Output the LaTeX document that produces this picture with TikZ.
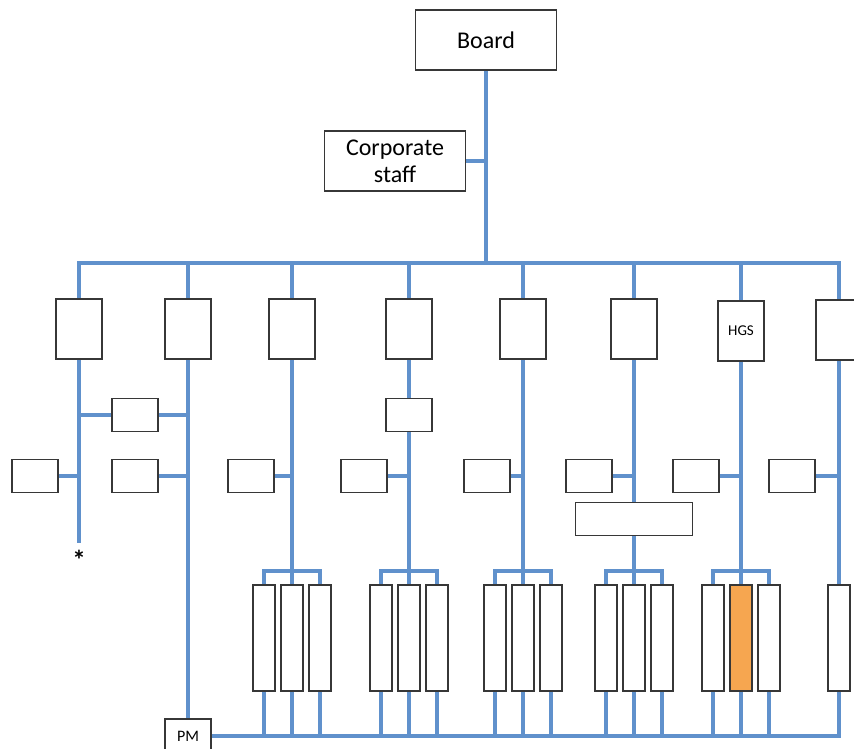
\documentclass[tikz,border=0pt]{standalone}
\usepackage{fontspec}
\setmainfont{Carlito}
\usepackage{xcolor}
\usepackage{tikz}
\usetikzlibrary{positioning,backgrounds}

\definecolor{linkblue}{RGB}{96,145,204}
\definecolor{boxgray}{RGB}{55,55,55}
\definecolor{hilite}{RGB}{246,166,80}

\begin{document}
\begin{tikzpicture}[
  x=1pt, y=-1pt,
  box/.style={draw=boxgray, line width=1.1pt, fill=white, inner sep=0pt},
  topBox/.style={box, align=center, minimum width=141pt, minimum height=60pt,
                 font=\fontsize{24}{27}\selectfont},
  unitBox/.style={box, minimum width=46pt, minimum height=60pt,
                  font=\fontsize{15}{17}\selectfont},
  sideBox/.style={box, minimum width=46pt, minimum height=33pt},
  wideBox/.style={box, minimum width=117pt, minimum height=33pt},
  tallBox/.style={box, minimum width=22pt, minimum height=106pt},
  link/.style={draw=linkblue, line width=3.2pt},
]
\clip (0,0) rectangle (854,749);

% board and staff
\node[topBox] (board) at (486,40)  {Board};
\node[topBox] (staff) at (395,161) {Corporate\\staff};

% divisions
\node[unitBox] (d1) at (79,329)  {};
\node[unitBox] (d2) at (188,329) {};
\node[unitBox] (d3) at (292,329) {};
\node[unitBox] (d4) at (409,329) {};
\node[unitBox] (d5) at (523,329) {};
\node[unitBox] (d6) at (634,329) {};
\node[unitBox] (d7) at (741,331) {HGS};
\node[unitBox] (d8) at (839,330) {};

\node[sideBox] (m1) at (135,415) {};
\node[sideBox] (m4) at (409,415) {};

\node[sideBox] (s1) at (35,476)  {};
\node[sideBox] (s2) at (135,476) {};
\node[sideBox] (s3) at (251,476) {};
\node[sideBox] (s4) at (364,476) {};
\node[sideBox] (s5) at (487,476) {};
\node[sideBox] (s6) at (589,476) {};
\node[sideBox] (s7) at (696,476) {};
\node[sideBox] (s8) at (792,476) {};

\node[wideBox] (w6) at (634,519) {};
\node[anchor=base, inner sep=0pt, font=\fontsize{27}{29}\bfseries] (star) at (79,569) {*};

% plants
\node[tallBox] (t3a) at (264,638) {}; \node[tallBox] (t3b) at (292,638) {}; \node[tallBox] (t3c) at (320,638) {};
\node[tallBox] (t4a) at (381,638) {}; \node[tallBox] (t4b) at (409,638) {}; \node[tallBox] (t4c) at (437,638) {};
\node[tallBox] (t5a) at (495,638) {}; \node[tallBox] (t5b) at (523,638) {}; \node[tallBox] (t5c) at (551,638) {};
\node[tallBox] (t6a) at (606,638) {}; \node[tallBox] (t6b) at (634,638) {}; \node[tallBox] (t6c) at (662,638) {};
\node[tallBox] (t7a) at (713,638) {}; \node[tallBox, fill=hilite] (t7b) at (741,638) {}; \node[tallBox] (t7c) at (769,638) {};
\node[tallBox] (t8)  at (839,638) {};

\node[unitBox, minimum height=34pt, font=\fontsize{16}{18}\selectfont] (pm) at (188,736) {PM};

\coordinate (bus)  at (486,263);
\coordinate (tail) at (79,543);
\coordinate (k3) at (292,571); \coordinate (k4) at (409,571);
\coordinate (k5) at (523,571); \coordinate (k6) at (634,571);
\coordinate (k7) at (741,571);

\begin{scope}[on background layer]
\draw[link] (board) -- (bus);
\draw[link] (staff) -- (staff -| board);
\draw[link] (d1.north) |- (bus) -| (d8.north);
\draw[link] (d2) -- (d2 |- bus); \draw[link] (d3) -- (d3 |- bus);
\draw[link] (d4) -- (d4 |- bus); \draw[link] (d5) -- (d5 |- bus);
\draw[link] (d6) -- (d6 |- bus); \draw[link] (d7) -- (d7 |- bus);

\draw[link] (d1) -- (tail);
\draw[link] (s1) -- (s1 -| d1); \draw[link] (m1) -- (m1 -| d1);
\draw[link] (m1) -- (m1 -| d2); \draw[link] (s2) -- (s2 -| d2);
\draw[link] (d2) -- (pm);

\draw[link] (d3) -- (t3b); \draw[link] (s3) -- (s3 -| d3);
\draw[link] (d4) -- (t4b); \draw[link] (s4) -- (s4 -| d4);
\draw[link] (d5) -- (t5b); \draw[link] (s5) -- (s5 -| d5);
\draw[link] (d6) -- (t6b); \draw[link] (s6) -- (s6 -| d6);
\draw[link] (d7) -- (t7b); \draw[link] (s7) -- (s7 -| d7);
\draw[link] (d8) -- (t8);  \draw[link] (s8) -- (s8 -| d8);

\draw[link] (t3a) |- (k3) -| (t3c);
\draw[link] (t4a) |- (k4) -| (t4c);
\draw[link] (t5a) |- (k5) -| (t5c);
\draw[link] (t6a) |- (k6) -| (t6c);
\draw[link] (t7a) |- (k7) -| (t7c);

\draw[link] (pm) -| (t8);
\draw[link] (t3a) -- (t3a |- pm) (t3b) -- (t3b |- pm) (t3c) -- (t3c |- pm)
            (t4a) -- (t4a |- pm) (t4b) -- (t4b |- pm) (t4c) -- (t4c |- pm)
            (t5a) -- (t5a |- pm) (t5b) -- (t5b |- pm) (t5c) -- (t5c |- pm)
            (t6a) -- (t6a |- pm) (t6b) -- (t6b |- pm) (t6c) -- (t6c |- pm)
            (t7a) -- (t7a |- pm) (t7b) -- (t7b |- pm) (t7c) -- (t7c |- pm);
\end{scope}
\end{tikzpicture}
\end{document}
